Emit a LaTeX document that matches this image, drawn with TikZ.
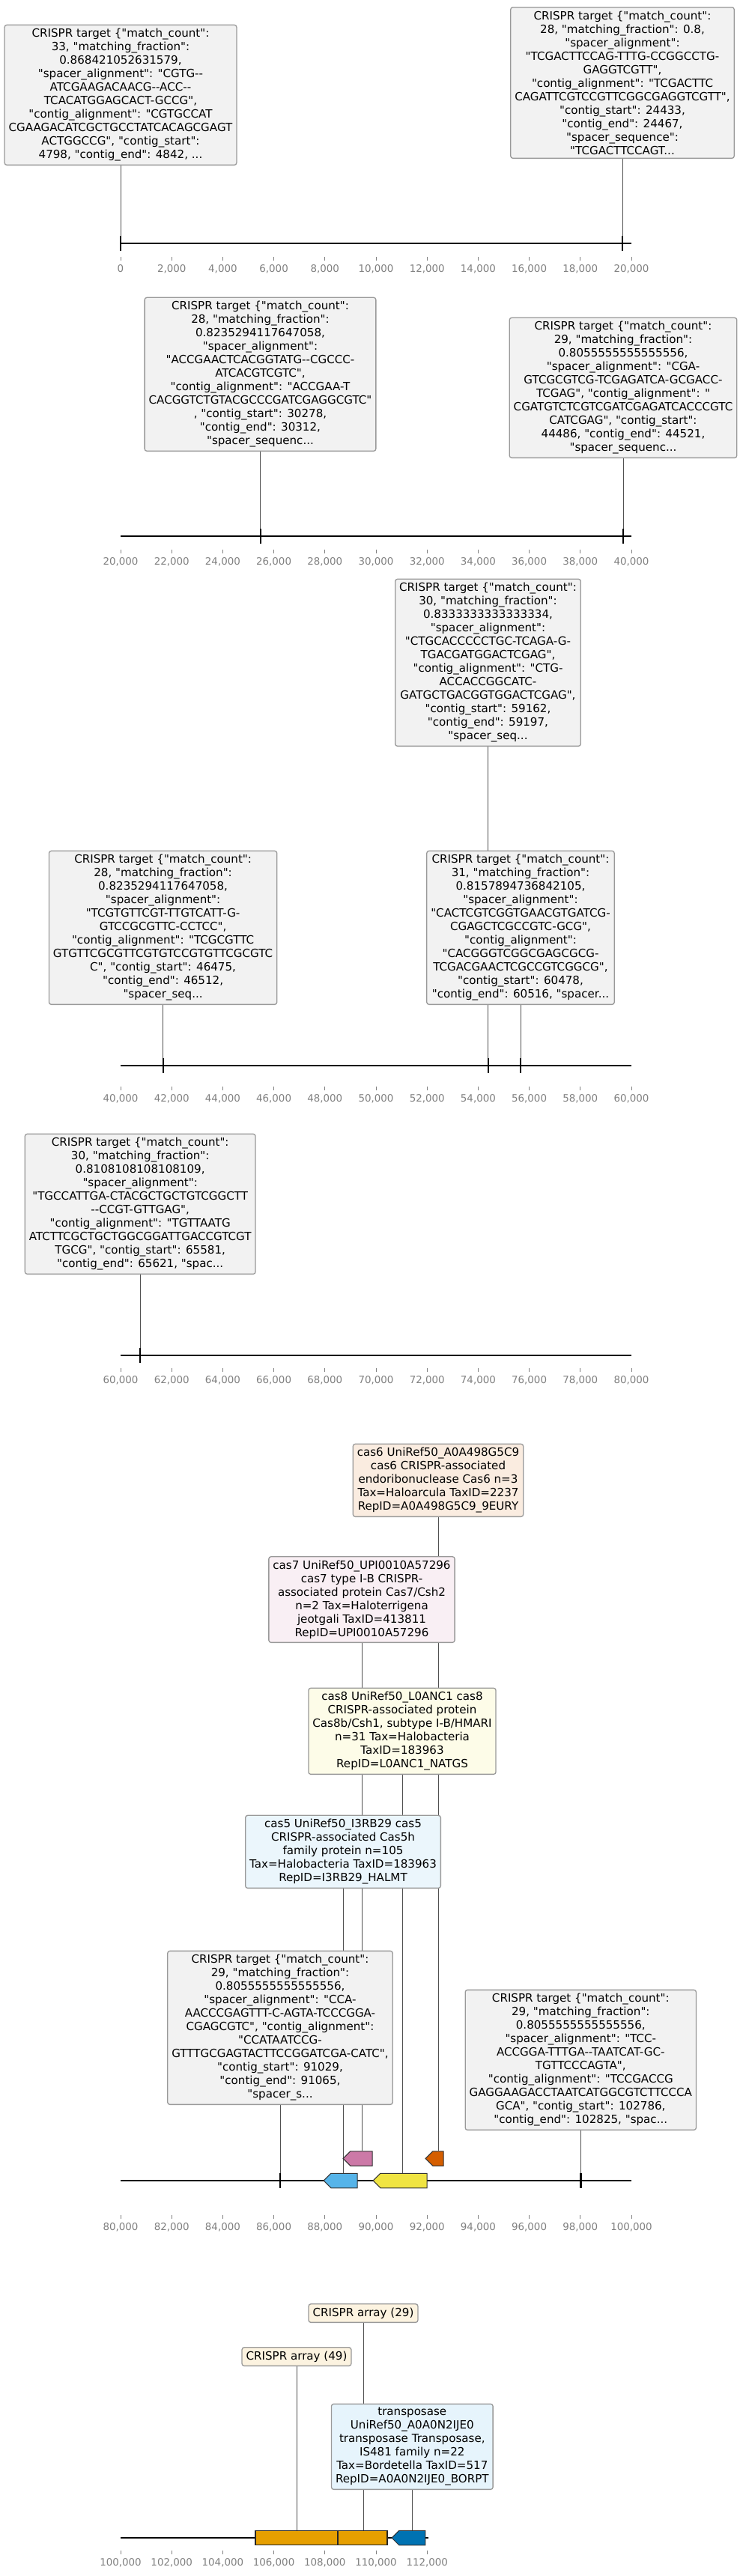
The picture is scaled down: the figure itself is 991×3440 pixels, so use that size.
\documentclass[tikz,border=0pt]{standalone}
\usepackage{fontspec}
\usepackage{xcolor}
\usepackage{tikz}
\usetikzlibrary{
  shapes.symbols,
  positioning,
  backgrounds
}
\newfontfamily\plotfont{DejaVu Sans}
\definecolor{okVerm}{HTML}{D55E00}
\definecolor{okPink}{HTML}{CC79A7}
\definecolor{okYellow}{HTML}{F0E442}
\definecolor{okSky}{HTML}{56B4E9}
\definecolor{okGold}{HTML}{E69F00}
\definecolor{okBlue}{HTML}{0072B2}
\definecolor{boxEdge}{HTML}{999999}
\definecolor{boxFill}{HTML}{F2F2F2}
\definecolor{tickGray}{HTML}{808080}
\definecolor{leadGray}{HTML}{505050}
\definecolor{tnpFill}{HTML}{E6F4FC}
\tikzset{
  annot/.style={
    draw=boxEdge, line width=1.3pt, rounded corners=3pt, fill=boxFill,
    align=center, inner xsep=5.5pt, inner ysep=5pt, anchor=south,
    font=\plotfont\fontsize{15.1pt}{18pt}\selectfont
  },
  casbox/.style={annot, fill=#1!12},
  hit/.style={draw=black, fill=black, line width=0.8pt, minimum width=1.2pt, minimum height=19pt, inner sep=0pt},
  gene/.style={
    signal, signal to=west, signal from=nowhere, signal pointer angle=90,
    draw=black!80, line width=1pt, fill=#1, minimum height=19.5pt, inner sep=0pt
  },
  crisprarray/.style={rectangle, draw=black!85, line width=1.2pt, fill=okGold, minimum height=19.5pt, inner sep=0pt},
  leader/.style={draw=leadGray, line width=0.9pt},
  rulerline/.style={line width=2.6pt},
  tickmark/.style={tickGray, line width=0.8pt},
  ticklabel/.style={text=tickGray, inner sep=0pt, font=\plotfont\fontsize{13.4pt}{16pt}\selectfont}
}
% axis y, label y, first kb, last tick, end of line
\newcommand{\ruler}[5]{%
  \draw[rulerline] (161,#1) -- (#5,#1);
  \foreach \i in {0,...,#4}{
    \pgfmathtruncatemacro{\kb}{#3+2*\i}
    \draw[tickmark] (161+68.2*\i,#2-16) -- (161+68.2*\i,#2-11);
    \node[ticklabel] (tick#1-\i) at (161+68.2*\i,#2) {\ifnum\kb=0 0\else\kb,000\fi};
  }
}

\begin{document}
\begin{tikzpicture}[x=1pt, y=-1pt]
  \useasboundingbox (0,0) rectangle (991,3440);
  \begin{scope}[on background layer]
    \fill[white] (0,0) rectangle (991,3440);
  \end{scope}

  % rulers
  \ruler{325}{359}{0}{10}{843}
  \ruler{716}{750}{20}{10}{843}
  \ruler{1423}{1467}{40}{10}{843}
  \ruler{1810}{1843}{60}{10}{843}
  \ruler{2912}{2974}{80}{10}{843}
  \ruler{3389}{3422}{100}{6}{572}

  % hits on the contig
  \node[hit] (hit1) at (161,325) {};
  \node[hit] (hit2) at (831,325) {};
  \node[hit] (hit3) at (347.5,716) {};
  \node[hit] (hit4) at (832,716) {};
  \node[hit] (hit5) at (651.5,1423) {};
  \node[hit] (hit6) at (217.6,1423) {};
  \node[hit] (hit7) at (695,1423) {};
  \node[hit] (hit8) at (187.2,1810) {};
  \node[hit] (hit9) at (374,2912) {};
  \node[hit] (hit10) at (775.3,2912) {};

  % genes
  \node[gene=okSky, minimum width=45pt] (cas5gene) at (459.5,2912) {};
  \node[gene=okPink, minimum width=39pt] (cas7gene) at (482.5,2882.5) {};
  \node[gene=okYellow, minimum width=72pt] (cas8gene) at (539,2912) {};
  \node[gene=okVerm, minimum width=24pt] (cas6gene) at (585,2882.5) {};
  \node[crisprarray, minimum width=110pt] (arr49) at (396,3389) {};
  \node[crisprarray, minimum width=66pt] (arr29) at (484,3389) {};
  \node[gene=okBlue, minimum width=44.7pt] (tnpgene) at (550.3,3389) {};

  % annotation boxes
  \node[annot] (t1) at (161,221) {CRISPR target \{"match\_count":\\
    33, "matching\_fraction":\\
    0.868421052631579,\\
    "spacer\_alignment": "CGTG--\\
    ATCGAAGACAACG--ACC--\\
    TCACATGGAGCACT-GCCG",\\
    "contig\_alignment": "CGTGCCAT\\
    CGAAGACATCGCTGCCTATCACAGCGAGT\\
    ACTGGCCG", "contig\_start":\\
    4798, "contig\_end": 4842, ...};
  \node[annot] (t2) at (831,212) {CRISPR target \{"match\_count":\\
    28, "matching\_fraction": 0.8,\\
    "spacer\_alignment":\\
    "TCGACTTCCAG-TTTG-CCGGCCTG-\\
    GAGGTCGTT",\\
    "contig\_alignment": "TCGACTTC\\
    CAGATTCGTCCGTTCGGCGAGGTCGTT",\\
    "contig\_start": 24433,\\
    "contig\_end": 24467,\\
    "spacer\_sequence":\\
    "TCGACTTCCAGT...};
  \node[annot] (t3) at (347.5,603) {CRISPR target \{"match\_count":\\
    28, "matching\_fraction":\\
    0.8235294117647058,\\
    "spacer\_alignment":\\
    "ACCGAACTCACGGTATG--CGCCC-\\
    ATCACGTCGTC",\\
    "contig\_alignment": "ACCGAA-T\\
    CACGGTCTGTACGCCCGATCGAGGCGTC"\\
    , "contig\_start": 30278,\\
    "contig\_end": 30312,\\
    "spacer\_sequenc...};
  \node[annot] (t4) at (832,612) {CRISPR target \{"match\_count":\\
    29, "matching\_fraction":\\
    0.8055555555555556,\\
    "spacer\_alignment": "CGA-\\
    GTCGCGTCG-TCGAGATCA-GCGACC-\\
    TCGAG", "contig\_alignment": "\\
    CGATGTCTCGTCGATCGAGATCACCCGTC\\
    CATCGAG", "contig\_start":\\
    44486, "contig\_end": 44521,\\
    "spacer\_sequenc...};
  \node[annot] (t5) at (651.5,997) {CRISPR target \{"match\_count":\\
    30, "matching\_fraction":\\
    0.8333333333333334,\\
    "spacer\_alignment":\\
    "CTGCACCCCCTGC-TCAGA-G-\\
    TGACGATGGACTCGAG",\\
    "contig\_alignment": "CTG-\\
    ACCACCGGCATC-\\
    GATGCTGACGGTGGACTCGAG",\\
    "contig\_start": 59162,\\
    "contig\_end": 59197,\\
    "spacer\_seq...};
  \node[annot] (t6) at (217.6,1342) {CRISPR target \{"match\_count":\\
    28, "matching\_fraction":\\
    0.8235294117647058,\\
    "spacer\_alignment":\\
    "TCGTGTTCGT-TTGTCATT-G-\\
    GTCCGCGTTC-CCTCC",\\
    "contig\_alignment": "TCGCGTTC\\
    GTGTTCGCGTTCGTGTCCGTGTTCGCGTC\\
    C", "contig\_start": 46475,\\
    "contig\_end": 46512,\\
    "spacer\_seq...};
  \node[annot] (t7) at (695,1342) {CRISPR target \{"match\_count":\\
    31, "matching\_fraction":\\
    0.8157894736842105,\\
    "spacer\_alignment":\\
    "CACTCGTCGGTGAACGTGATCG-\\
    CGAGCTCGCCGTC-GCG",\\
    "contig\_alignment":\\
    "CACGGGTCGGCGAGCGCG-\\
    TCGACGAACTCGCCGTCGGCG",\\
    "contig\_start": 60478,\\
    "contig\_end": 60516, "spacer...};
  \node[annot] (t8) at (187.2,1702) {CRISPR target \{"match\_count":\\
    30, "matching\_fraction":\\
    0.8108108108108109,\\
    "spacer\_alignment":\\
    "TGCCATTGA-CTACGCTGCTGTCGGCTT\\
    --CCGT-GTTGAG",\\
    "contig\_alignment": "TGTTAATG\\
    ATCTTCGCTGCTGGCGGATTGACCGTCGT\\
    TGCG", "contig\_start": 65581,\\
    "contig\_end": 65621, "spac...};
  \node[casbox=okVerm] (cas6box) at (585,2026) {cas6 UniRef50\_A0A498G5C9\\
    cas6 CRISPR-associated\\
    endoribonuclease Cas6 n=3\\
    Tax=Haloarcula TaxID=2237\\
    RepID=A0A498G5C9\_9EURY};
  \node[casbox=okPink] (cas7box) at (483,2194) {cas7 UniRef50\_UPI0010A57296\\
    cas7 type I-B CRISPR-\\
    associated protein Cas7/Csh2\\
    n=2 Tax=Haloterrigena\\
    jeotgali TaxID=413811\\
    RepID=UPI0010A57296};
  \node[casbox=okYellow] (cas8box) at (537,2370) {cas8 UniRef50\_L0ANC1 cas8\\
    CRISPR-associated protein\\
    Cas8b/Csh1, subtype I-B/HMARI\\
    n=31 Tax=Halobacteria\\
    TaxID=183963\\
    RepID=L0ANC1\_NATGS};
  \node[casbox=okSky] (cas5box) at (458,2522) {cas5 UniRef50\_I3RB29 cas5\\
    CRISPR-associated Cas5h\\
    family protein n=105\\
    Tax=Halobacteria TaxID=183963\\
    RepID=I3RB29\_HALMT};
  \node[annot] (t9) at (374,2811) {CRISPR target \{"match\_count":\\
    29, "matching\_fraction":\\
    0.8055555555555556,\\
    "spacer\_alignment": "CCA-\\
    AACCCGAGTTT-C-AGTA-TCCCGGA-\\
    CGAGCGTC", "contig\_alignment":\\
    "CCATAATCCG-\\
    GTTTGCGAGTACTTCCGGATCGA-CATC",\\
    "contig\_start": 91029,\\
    "contig\_end": 91065,\\
    "spacer\_s...};
  \node[annot] (t10) at (775.3,2845) {CRISPR target \{"match\_count":\\
    29, "matching\_fraction":\\
    0.8055555555555556,\\
    "spacer\_alignment": "TCC-\\
    ACCGGA-TTTGA--TAATCAT-GC-\\
    TGTTCCCAGTA",\\
    "contig\_alignment": "TCCGACCG\\
    GAGGAAGACCTAATCATGGCGTCTTCCCA\\
    GCA", "contig\_start": 102786,\\
    "contig\_end": 102825, "spac...};
  \node[casbox=okGold] (arr29box) at (485,3102) {CRISPR array (29)};
  \node[casbox=okGold] (arr49box) at (396,3160) {CRISPR array (49)};
  \node[annot, fill=tnpFill] (tnpbox) at (550.3,3325) {transposase\\
    UniRef50\_A0A0N2IJE0\\
    transposase Transposase,\\
    IS481 family n=22\\
    Tax=Bordetella TaxID=517\\
    RepID=A0A0N2IJE0\_BORPT};

  % leader lines
  \begin{scope}[on background layer]
    \foreach \n in {1,...,10}
      \draw[leader] (t\n.south) -- (t\n.south |- hit\n.north);
    \draw[leader] (cas6box.south) -- (cas6box.south |- cas6gene.north);
    \draw[leader] (cas7box.south) -- (cas7box.south |- cas7gene.north);
    \draw[leader] (cas8box.south) -- (cas8box.south |- cas8gene.north);
    \draw[leader] (cas5box.south) -- (cas5box.south |- cas5gene.north);
    \draw[leader] (arr49box.south) -- (arr49box.south |- arr49.north);
    \draw[leader] (arr29box.south) -- (arr29box.south |- arr29.north);
    \draw[leader] (tnpbox.south) -- (tnpbox.south |- tnpgene.north);
  \end{scope}
\end{tikzpicture}
\end{document}
